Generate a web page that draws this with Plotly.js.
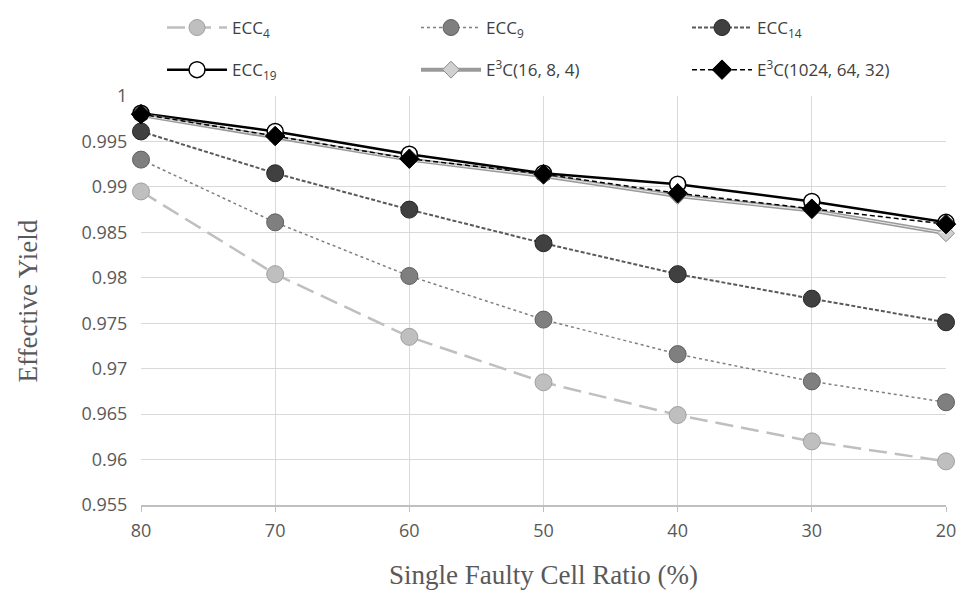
<!DOCTYPE html>
<html>
<head>
<meta charset="utf-8">
<script src="https://cdn.plot.ly/plotly-3.0.1.min.js"></script>
<style>html,body{margin:0;padding:0;background:#fff;}#chart{width:959px;height:600px;}</style>
</head>
<body>
<div id="chart"></div>
<script>
// Data
var faultyRatio = [80, 70, 60, 50, 40, 30, 20];
var ecc4    = [0.9895, 0.9804, 0.9735, 0.9685, 0.9649, 0.9620, 0.9598];
var ecc9    = [0.9930, 0.9861, 0.9802, 0.9754, 0.9716, 0.9686, 0.9663];
var ecc14   = [0.9961, 0.9915, 0.9875, 0.9838, 0.9804, 0.9777, 0.9751];
var ecc19   = [0.9981, 0.9961, 0.9936, 0.9915, 0.9903, 0.9884, 0.9861];
var e3c16   = [0.9979, 0.9955, 0.9930, 0.9912, 0.9890, 0.9874, 0.9849];
var e3c1024 = [0.9980, 0.9956, 0.9931, 0.9914, 0.9893, 0.9876, 0.9859];
var seriesNames = ['ECC<sub>4</sub>', 'ECC<sub>9</sub>', 'ECC<sub>14</sub>', 'ECC<sub>19</sub>',
                   'E<sup>3</sup>C(16, 8, 4)', 'E<sup>3</sup>C(1024, 64, 32)'];
var yTickVals = [0.955, 0.96, 0.965, 0.97, 0.975, 0.98, 0.985, 0.99, 0.995, 1];
var yTickText = ['0.955', '0.96', '0.965', '0.97', '0.975', '0.98', '0.985', '0.99', '0.995', '1'];
var xTickVals = [80, 70, 60, 50, 40, 30, 20];
var xTitle = 'Single Faulty Cell Ratio (%)';
var yTitle = 'Effective Yield';

var legFont = {family: 'Liberation Sans Narrow, Open Sans, sans-serif', size: 17, color: '#404040'};
var tickFont = {family: 'Liberation Sans Narrow, Open Sans, sans-serif', size: 18, color: '#595959'};
var titleFont = {family: 'Liberation Serif, serif', size: 27, color: '#595959'};

var traces = [
  {x: faultyRatio, y: ecc4, name: seriesNames[0], legend: 'legend', legendgroup: 'a', mode: 'lines+markers',
   line: {color: '#bfbfbf', width: 2.5, dash: '18px,8px'},
   marker: {symbol: 'circle', size: 17, color: '#bfbfbf', line: {color: '#a0a0a0', width: 1}}},
  {x: faultyRatio, y: ecc9, name: seriesNames[1], legend: 'legend2', legendgroup: 'b', mode: 'lines+markers',
   line: {color: '#7f7f7f', width: 1.5, dash: 'dot'},
   marker: {symbol: 'circle', size: 17, color: '#7f7f7f', line: {color: '#5f5f5f', width: 1}}},
  {x: faultyRatio, y: ecc14, name: seriesNames[2], legend: 'legend3', legendgroup: 'c', mode: 'lines+markers',
   line: {color: '#595959', width: 2, dash: '4px,2px'},
   marker: {symbol: 'circle', size: 17, color: '#404040', line: {color: '#262626', width: 1}}},
  {x: faultyRatio, y: ecc19, name: seriesNames[3], legend: 'legend', legendgroup: 'd', mode: 'lines+markers',
   line: {color: '#000000', width: 2.5},
   marker: {symbol: 'circle', size: 16, color: '#ffffff', line: {color: '#000000', width: 1.5}}},
  {x: faultyRatio, y: e3c16, name: seriesNames[4], legend: 'legend2', legendgroup: 'e', mode: 'lines+markers',
   line: {color: '#9a9a9a', width: 4},
   marker: {symbol: 'diamond', size: 13, color: '#d0d0d0', line: {color: '#8a8a8a', width: 1}}},
  {x: faultyRatio, y: e3c16, showlegend: false, hoverinfo: 'skip', mode: 'lines',
   line: {color: '#e8e8e8', width: 1.2}},
  {x: faultyRatio, y: e3c1024, name: seriesNames[5], legend: 'legend3', legendgroup: 'f', mode: 'lines+markers',
   line: {color: '#000000', width: 1.5, dash: '5px,3px'},
   marker: {symbol: 'diamond', size: 15, color: '#000000', line: {color: '#000000', width: 1}}}
];
traces.forEach(function(t){ t.cliponaxis = false; });

function leg(xpx) {
  return {xref: 'container', yref: 'container', x: xpx / 959, y: 1 - 10 / 600, xanchor: 'left', yanchor: 'top',
          orientation: 'v', font: legFont, tracegroupgap: 17, bgcolor: 'rgba(0,0,0,0)', itemwidth: 60};
}

var layout = {
  width: 959, height: 600,
  paper_bgcolor: '#ffffff', plot_bgcolor: '#ffffff',
  margin: {l: 141, r: 13, t: 96, b: 95, autoexpand: false},
  showlegend: true,
  legend: leg(162), legend2: leg(416), legend3: leg(687),
  xaxis: {
    range: [80, 20], tickvals: xTickVals, ticktext: xTickVals.map(String),
    showgrid: true, gridcolor: '#d9d9d9', gridwidth: 1, zeroline: false,
    showline: true, linecolor: '#bfbfbf', linewidth: 1.5, automargin: false,
    ticks: 'outside', ticklen: 5, tickcolor: '#bfbfbf', ticklabelstandoff: 4,
    tickfont: tickFont,
    title: {text: xTitle, standoff: 24, font: titleFont}
  },
  yaxis: {
    range: [0.955, 1], tickvals: yTickVals, ticktext: yTickText,
    showgrid: true, gridcolor: '#d9d9d9', gridwidth: 1, zeroline: false, showline: false,
    automargin: false,
    ticks: 'outside', ticklen: 9, tickcolor: 'rgba(0,0,0,0)',
    tickfont: tickFont
  },
  annotations: [
    {text: yTitle, xref: 'paper', yref: 'paper', x: -0.1404, y: 0.5, xanchor: 'center', yanchor: 'middle',
     textangle: -90, showarrow: false, font: titleFont}
  ]
};

Plotly.newPlot('chart', traces, layout, {displayModeBar: false, staticPlot: true});
</script>
</body>
</html>
